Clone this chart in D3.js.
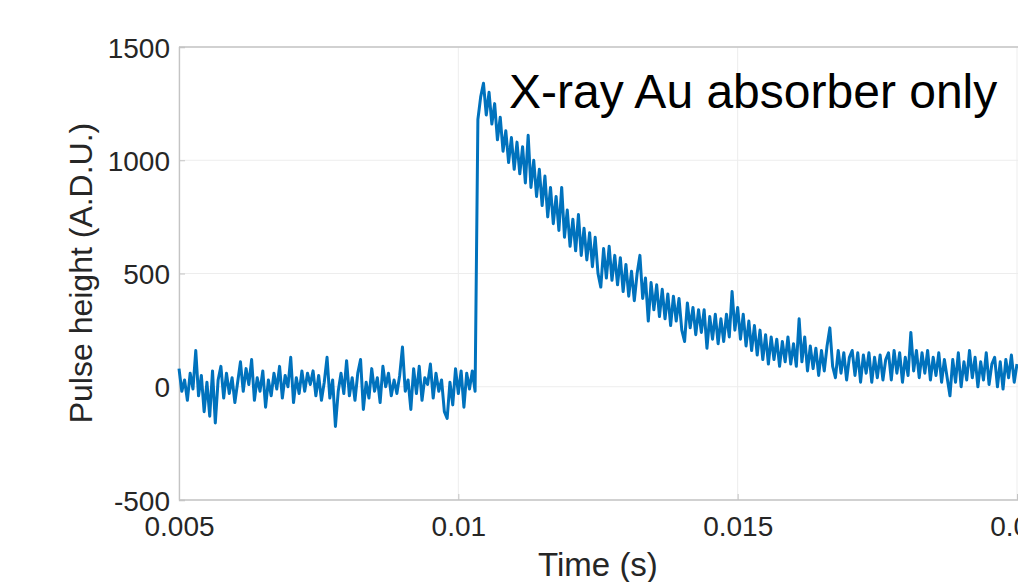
<!DOCTYPE html>
<html>
<head>
<meta charset="utf-8">
<script src="https://cdn.jsdelivr.net/npm/d3@7"></script>
<style>
  body { margin: 0; background: #fff; }
  svg { display: block; font-family: "Liberation Sans", Arial, sans-serif; }
</style>
</head>
<body>
<div id="chart"></div>
<script>
// sampled pulse, one value every SAMPLE_DT seconds starting at START_T
const START_T   = 0.005
const SAMPLE_DT = 0.00005

// baseline before the X-ray hit (A.D.U.)
const baseline = [
   80, -20,  30, -60,  60, -10, 160, -40,  50,-110,
   20,-130,  70,-160,  30,  90, -50,  60, -30,  40,
  -70,  20, 110, -20,  80,  10, 120, -60,  40, -20,
   70, -90,  30, -40,  60, -10,  90, -50,  50,   0,
  130, -70,  40, -30,  70, -20,  60,  10,  70, -40,
   50, -60,  20, 130, -50,  30,-175, -20,  60, -30,
  115, -40,  40, -60,  60, 120,-100,  20, -50,  80,
  -20,  40, -70,  90,   0,  60, -40,  30, -30,  50,
  175, -20,  30,-100,  80, -30,  90, -60,  40,  10,
  100, -50,  60, -20,  30,-110,-140,  20, -80,  80,
  -30,  70, -90,  60, -10,  70, -20
]

// rise and decay after the hit (A.D.U.)
const decay = [
  1180,1280,1340,1200,1300,1160,1250,1090,1190,1040,
  1130, 990,1100, 960,1080, 940,1060, 900,1110, 880,
  1000, 840, 960, 800, 930, 750, 880, 720, 840, 690,
   880, 660, 780, 620, 740, 600, 760, 580, 700, 560,
   680, 530, 660, 500, 440, 610, 480, 620, 470, 580,
   450, 570, 420, 540, 400, 510, 380, 500, 580, 390,
   480, 290, 460, 340, 450, 310, 430, 300, 410, 270,
   400, 290, 390, 250, 200, 370, 260, 350, 230, 340,
   240, 340, 170, 310, 210, 320, 190, 300, 200, 320,
   220, 420, 250, 350, 210, 320, 180, 290, 160, 270,
   140, 250, 120, 230, 100, 220, 120, 210,  90, 200,
   110, 220, 100, 190,  90, 300, 110, 220,  70, 180,
    80, 170,  50, 160,  70, 180, 260,  90,  40, 160,
    60, 150,  30, 130, 160,  50, 150,  20, 140,  60,
   150,  20, 130,  40, 140,  30, 120, 150,  30, 160,
    60, 150,  20, 130,  50, 240,  70, 160,  40, 150,
    60, 160,  30, 130,  50, 150,  20, 120,  40, -40,
   120,  20, 150,   0, 110,  30, 160,  40, 130,   0,
   110,  30, 150,  10, 100, 130,   0, 110, -10, 120,
    40, 140,  20, 100
]

const xTicks = [0.005, 0.01, 0.015, 0.02]
const yTicks = [-500, 0, 500, 1000, 1500]
const xDomain = [0.005, 0.02]
const yDomain = [-500, 1500]

const W = 1018, H = 582
const PLOT = {left: 179, right: 1017, top: 47, bottom: 500}

const pulse = baseline.concat(decay)
const data = pulse.map((v, i) => ({t: START_T + i * SAMPLE_DT, v: v}))

const svg = d3.select('#chart').append('svg')
    .attr('width', W)
    .attr('height', H)

const x = d3.scaleLinear().domain(xDomain).range([PLOT.left, PLOT.right])
const y = d3.scaleLinear().domain(yDomain).range([PLOT.bottom, PLOT.top])

// faint grid
svg.append('g').selectAll('line.vg')
    .data(xTicks)
    .join('line')
        .attr('x1', d => x(d)).attr('x2', d => x(d))
        .attr('y1', PLOT.top).attr('y2', PLOT.bottom)
        .attr('stroke', '#ededed').attr('stroke-width', 1)
svg.append('g').selectAll('line.hg')
    .data(yTicks)
    .join('line')
        .attr('x1', PLOT.left).attr('x2', W)
        .attr('y1', d => y(d)).attr('y2', d => y(d))
        .attr('stroke', '#ededed').attr('stroke-width', 1)

// plain number labels, MATLAB style (no thousands comma, ascii minus)
const plain = d => String(d)

// axes, ticks pointing in
const xAxis = svg.append('g')
    .attr('transform', `translate(0, ${PLOT.bottom})`)
    .call(d3.axisBottom(x).tickValues(xTicks).tickSize(-6).tickFormat(plain))
const yAxis = svg.append('g')
    .attr('transform', `translate(${PLOT.left}, 0)`)
    .call(d3.axisLeft(y).tickValues(yTicks).tickSize(-6).tickPadding(9).tickFormat(plain))

for (const ax of [xAxis, yAxis]) {
    ax.select('.domain').attr('stroke', '#c4c4c4').attr('stroke-width', 1.3)
    ax.selectAll('.tick line').attr('stroke', '#c4c4c4')
    ax.selectAll('.tick text')
        .attr('fill', '#262626')
        .style('font-size', '28px')
        .style('font-family', '"Liberation Sans", Arial, sans-serif')
}
xAxis.select('.domain').attr('d', `M${PLOT.left},0H${W}`)
xAxis.selectAll('.tick text').attr('dy', '0.71em').attr('y', 16)
yAxis.selectAll('.tick text').attr('dy', '0.36em')

// top edge of the box
svg.append('line')
    .attr('x1', PLOT.left).attr('x2', W)
    .attr('y1', PLOT.top).attr('y2', PLOT.top)
    .attr('stroke', '#c4c4c4').attr('stroke-width', 1.3)

// the trace
const line = d3.line()
    .x(d => x(d.t))
    .y(d => y(d.v))

svg.append('path')
    .datum(data)
    .attr('fill', 'none')
    .attr('stroke', '#0072BD')
    .attr('stroke-width', 3)
    .attr('stroke-linejoin', 'round')
    .attr('d', line)

// labels
svg.append('text')
    .attr('x', 598).attr('y', 576)
    .attr('text-anchor', 'middle')
    .attr('fill', '#262626')
    .style('font-size', '33px')
    .text('Time (s)')

svg.append('text')
    .attr('transform', 'translate(92, 273) rotate(-90)')
    .attr('text-anchor', 'middle')
    .attr('fill', '#262626')
    .style('font-size', '32px')
    .text('Pulse height (A.D.U.)')

svg.append('text')
    .attr('x', 509).attr('y', 108)
    .attr('fill', '#000')
    .style('font-size', '48px')
    .text('X-ray Au absorber only')
</script>
</body>
</html>
